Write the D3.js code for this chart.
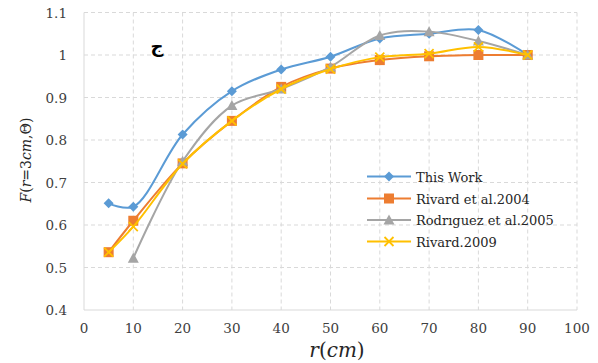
<!DOCTYPE html>
<html lang="en">
<head>
  <meta charset="utf-8">
  <title>F(r=3cm,Θ) vs r</title>
  <script src="https://d3js.org/d3.v7.min.js"></script>
  <style>
    body { margin: 0; background: #fff; }
    svg { display: block; }
    .tick-label { font-family: "DejaVu Serif", serif; font-size: 13.5px; fill: #404040; }
    .legend-label { font-family: "DejaVu Serif", serif; font-size: 13px; fill: #262626; }
  </style>
</head>
<body>
  <div id="chart"></div>
  <script>
    // distances (cm) and values
    const radii = [5, 10, 20, 30, 40, 50, 60, 70, 80, 90];
    const thisWork = [0.651, 0.643, 0.813, 0.915, 0.966, 0.996, 1.039, 1.05, 1.059, 1.0];
    const rivard2004 = [0.536, 0.61, 0.745, 0.845, 0.925, 0.968, 0.988, 0.997, 1.0, 1.0];
    const rodriguez2005 = [null, 0.522, 0.75, 0.881, 0.92, 0.972, 1.046, 1.055, 1.033, 1.0];
    const rivard2009 = [0.536, 0.596, 0.744, 0.845, 0.92, 0.967, 0.995, 1.003, 1.019, 1.0];
    const xTicks = [0, 10, 20, 30, 40, 50, 60, 70, 80, 90, 100];
    const yTicks = [0.4, 0.5, 0.6, 0.7, 0.8, 0.9, 1.0, 1.1];

    const series = [
      { name: "This Work", values: thisWork, color: "#5b9bd5", marker: "diamond" },
      { name: "Rivard et al.2004", values: rivard2004, color: "#ed7d31", marker: "square" },
      { name: "Rodrıguez et al.2005", values: rodriguez2005, color: "#a5a5a5", marker: "triangle" },
      { name: "Rivard.2009", values: rivard2009, color: "#ffc000", marker: "cross" }
    ];

    const W = 598, H = 363;
    const plot = { left: 84, right: 577, top: 12.5, bottom: 310 };

    const svg = d3.select("#chart").append("svg")
      .attr("width", W).attr("height", H);

    const x = d3.scaleLinear().domain([0, 100]).range([plot.left, plot.right]);
    const y = d3.scaleLinear().domain([0.4, 1.1]).range([plot.bottom, plot.top]);

    // grid
    const grid = svg.append("g");
    grid.selectAll(".vg").data(xTicks.slice(1)).enter().append("line")
      .attr("x1", d => x(d)).attr("x2", d => x(d))
      .attr("y1", plot.top).attr("y2", plot.bottom)
      .attr("stroke", "#d9d9d9").attr("stroke-dasharray", "4,3");
    grid.selectAll(".hg").data(yTicks.slice(1)).enter().append("line")
      .attr("x1", plot.left).attr("x2", plot.right)
      .attr("y1", d => y(d)).attr("y2", d => y(d))
      .attr("stroke", "#d9d9d9").attr("stroke-dasharray", "4,3");

    // axis lines
    svg.append("line").attr("x1", plot.left).attr("x2", plot.left)
      .attr("y1", plot.top).attr("y2", plot.bottom).attr("stroke", "#d9d9d9");
    svg.append("line").attr("x1", plot.left).attr("x2", plot.right)
      .attr("y1", plot.bottom).attr("y2", plot.bottom).attr("stroke", "#d9d9d9");

    // tick labels
    svg.selectAll(".xt").data(xTicks).enter().append("text")
      .attr("class", "tick-label")
      .attr("x", d => x(d)).attr("y", 333)
      .attr("text-anchor", "middle")
      .text(d => d);
    svg.selectAll(".yt").data(yTicks).enter().append("text")
      .attr("class", "tick-label")
      .attr("x", 67).attr("y", d => y(d) + 5)
      .attr("text-anchor", "end")
      .text(d => d3.format("~g")(d));

    // axis titles
    const xt = svg.append("text")
      .attr("x", 337).attr("y", 357)
      .attr("text-anchor", "middle")
      .style("font-family", "'DejaVu Serif', serif").style("font-size", "20px").attr("fill", "#262626");
    xt.append("tspan").style("font-style", "italic").text("r");
    xt.append("tspan").text("(");
    xt.append("tspan").style("font-style", "italic").text("cm");
    xt.append("tspan").text(")");

    const yt = svg.append("text")
      .attr("transform", "translate(31,160) rotate(-90)")
      .attr("text-anchor", "middle")
      .style("font-family", "'DejaVu Serif', serif").style("font-size", "14px").attr("fill", "#262626");
    yt.append("tspan").style("font-style", "italic").text("F");
    yt.append("tspan").text("(");
    yt.append("tspan").style("font-style", "italic").text("r");
    yt.append("tspan").text("=3");
    yt.append("tspan").style("font-style", "italic").text("cm");
    yt.append("tspan").text(",Θ)");

    svg.append("text")
      .attr("x", 157).attr("y", 52)
      .attr("text-anchor", "middle")
      .style("font-family", "'DejaVu Sans', sans-serif").style("font-size", "18px")
      .style("font-weight", "bold").attr("fill", "#000")
      .text("ج");

    // markers
    function drawMarker(g, type, color, cx, cy) {
      if (type === "diamond") {
        g.append("path").attr("d", `M${cx},${cy - 5}L${cx + 5},${cy}L${cx},${cy + 5}L${cx - 5},${cy}Z`)
          .attr("fill", color);
      } else if (type === "square") {
        g.append("rect").attr("x", cx - 5).attr("y", cy - 5).attr("width", 10).attr("height", 10)
          .attr("fill", color);
      } else if (type === "triangle") {
        g.append("path").attr("d", `M${cx},${cy - 5.5}L${cx + 5.5},${cy + 4.5}L${cx - 5.5},${cy + 4.5}Z`)
          .attr("fill", color);
      } else {
        g.append("path").attr("d", `M${cx - 4.5},${cy - 4.5}L${cx + 4.5},${cy + 4.5}M${cx + 4.5},${cy - 4.5}L${cx - 4.5},${cy + 4.5}`)
          .attr("stroke", color).attr("stroke-width", 1.8).attr("fill", "none");
      }
    }

    const line = d3.line()
      .x(d => x(d.r)).y(d => y(d.v))
      .curve(d3.curveCatmullRom.alpha(0.5));

    series.forEach(s => {
      const pts = radii.map((r, i) => ({ r, v: s.values[i] })).filter(d => d.v != null);
      const g = svg.append("g");
      g.append("path").datum(pts)
        .attr("d", line)
        .attr("fill", "none").attr("stroke", s.color).attr("stroke-width", 2);
      pts.forEach(d => drawMarker(g, s.marker, s.color, x(d.r), y(d.v)));
    });

    // legend
    const legendRows = [176.5, 198.5, 220, 241.5];
    series.forEach((s, i) => {
      const g = svg.append("g");
      const ly = legendRows[i];
      g.append("line").attr("x1", 367).attr("x2", 411).attr("y1", ly).attr("y2", ly)
        .attr("stroke", s.color).attr("stroke-width", 2);
      drawMarker(g, s.marker, s.color, 389, ly);
      g.append("text").attr("class", "legend-label")
        .attr("x", 416).attr("y", ly + 5)
        .text(s.name);
    });
  </script>
</body>
</html>
